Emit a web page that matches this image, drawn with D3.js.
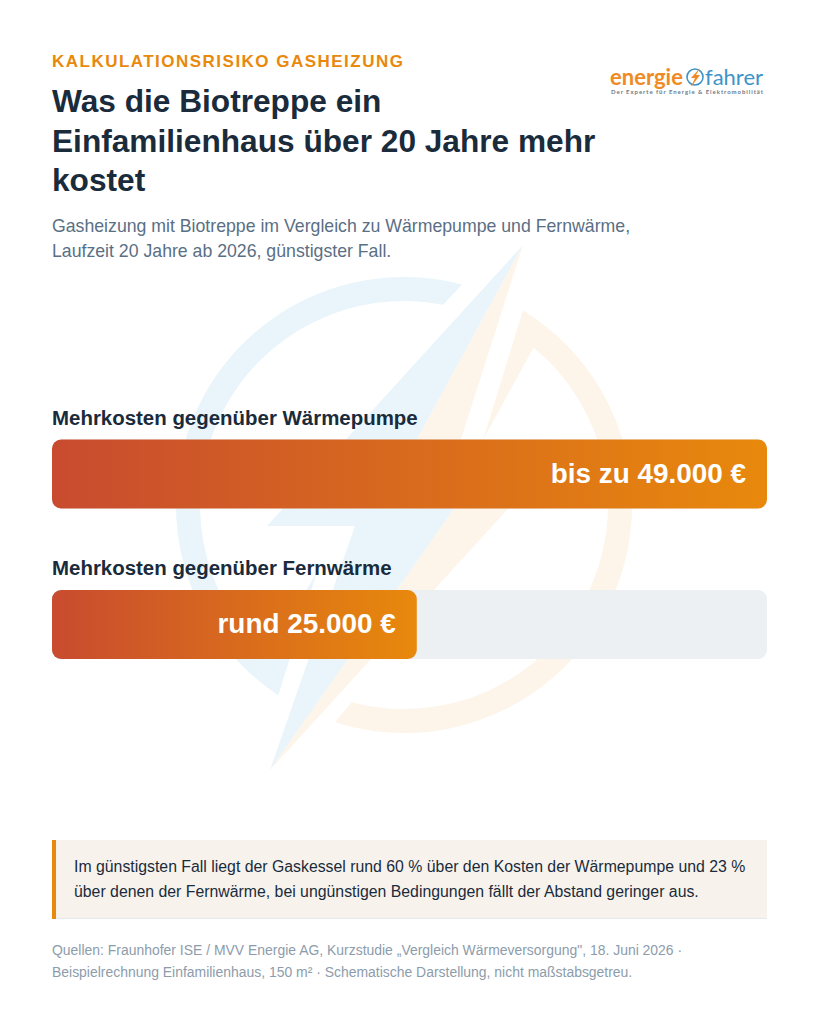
<!DOCTYPE html>
<html lang="de">
<head>
<meta charset="utf-8">
<title>Kalkulationsrisiko Gasheizung</title>
<script src="https://cdn.jsdelivr.net/npm/d3@7"></script>
<style>
  html, body { margin: 0; padding: 0; background: #fff; }
  svg { display: block; }
  text { font-family: "Liberation Sans", Arial, sans-serif; }
</style>
</head>
<body>
<div id="chart"></div>
<script>
// chart data
const categories = ['Mehrkosten gegenüber Wärmepumpe', 'Mehrkosten gegenüber Fernwärme'];
const extraCosts = [49000, 25000];
const valueLabels = ['bis zu 49.000 €', 'rund 25.000 €'];
const titleLines = ['Was die Biotreppe ein', 'Einfamilienhaus über 20 Jahre mehr', 'kostet'];
const subtitleLines = [
  'Gasheizung mit Biotreppe im Vergleich zu Wärmepumpe und Fernwärme,',
  'Laufzeit 20 Jahre ab 2026, günstigster Fall.'
];
const noteLines = [
  'Im günstigsten Fall liegt der Gaskessel rund 60 % über den Kosten der Wärmepumpe und 23 %',
  'über denen der Fernwärme, bei ungünstigen Bedingungen fällt der Abstand geringer aus.'
];
const sourceLines = [
  'Quellen: Fraunhofer ISE / MVV Energie AG, Kurzstudie „Vergleich Wärmeversorgung", 18. Juni 2026 ·',
  'Beispielrechnung Einfamilienhaus, 150 m² · Schematische Darstellung, nicht maßstabsgetreu.'
];

const width = 819, height = 1024;
const left = 52, right = 767;
const ink = '#1a2b3c', orange = '#e8890c', red = '#c84b2f';

const svg = d3.select('#chart').append('svg').attr('width', width).attr('height', height);
const defs = svg.append('defs');

// ring piece of the watermark, ends are taken from points on the picture
function ringPiece(outerA, outerB, innerB, innerA, ccw, spike) {
  const cx = 404, cy = 505;
  const ang = p => Math.atan2(p[1] - cy, p[0] - cx);
  const p = d3.path();
  p.arc(cx, cy, 228, ang(outerA), ang(outerB), ccw);
  if (spike && ccw) p.lineTo(spike[0], spike[1]);
  p.arc(cx, cy, 204, ang(innerB), ang(innerA), !ccw);
  if (spike && !ccw) p.lineTo(spike[0], spike[1]);
  p.closePath();
  return p.toString();
}

// watermark behind the bars
const wm = svg.append('g');
const blueWm = '#e9f5fa', orangeWm = '#fdf4ea';
wm.append('path').attr('fill', blueWm)
  .attr('d', ringPiece([462, 285], [277, 697], [265, 659], [443, 305], true, [317, 572]));
wm.append('path').attr('fill', orangeWm)
  .attr('d', ringPiece([522, 312], [334, 726], [350, 708], [533, 348], false, [483, 440]));
wm.append('path').attr('fill', blueWm)
  .attr('d', 'M523,245 L267,526 L355,526 L270,770 L468,489 L390,489 Z');
wm.append('path').attr('fill', orangeWm)
  .attr('d', 'M523,245 L445,489 L526,489 L270,770 L468,489 L390,489 Z');

// header
svg.append('text').attr('x', left).attr('y', 66.5)
  .attr('fill', orange).attr('font-size', 17).attr('font-weight', 700).attr('letter-spacing', 1.48)
  .text('KALKULATIONSRISIKO GASHEIZUNG');

svg.append('g').selectAll('text').data(titleLines).join('text')
  .attr('x', left).attr('y', (d, i) => 112 + i * 39.5)
  .attr('fill', ink).attr('font-size', 31.65).attr('font-weight', 700)
  .text(d => d);

svg.append('g').selectAll('text').data(subtitleLines).join('text')
  .attr('x', left).attr('y', (d, i) => 232 + i * 25)
  .attr('fill', '#5a6f84').attr('font-size', 17.7)
  .text(d => d);

// logo
const logo = svg.append('g');
logo.append('text').attr('x', 610).attr('y', 85)
  .attr('fill', '#f08a24').attr('font-size', 22).attr('font-weight', 700)
  .style('font-family', 'Lato').text('energie');
logo.append('circle').attr('cx', 695).attr('cy', 77).attr('r', 8)
  .attr('fill', 'none').attr('stroke', '#3d94c8').attr('stroke-width', 1.6);
logo.append('path').attr('fill', '#f08a24').attr('d', 'M700,68 L691,78 L695,78 L691,87 L700,75 L696,75 Z');
logo.append('text').attr('x', 705).attr('y', 85)
  .attr('fill', '#3d94c8').attr('font-size', 22)
  .style('font-family', 'Lato').text('fahrer');
logo.append('text').attr('x', 611).attr('y', 93.5)
  .attr('fill', '#6f7b86').attr('font-size', 6).attr('font-weight', 700).attr('letter-spacing', 0.95)
  .style('font-family', 'Lato').text('Der Experte für Energie & Elektromobilität');

// bars
const x = d3.scaleLinear().domain([0, d3.max(extraCosts)]).range([left, right]);
const y = d3.scaleBand().domain(categories).range([439.5, 659]).paddingInner(0.5415);

const rows = svg.append('g').selectAll('g').data(categories).join('g');

categories.forEach((c, i) => {
  defs.append('linearGradient').attr('id', 'barFill' + i)
    .selectAll('stop').data([red, orange]).join('stop')
    .attr('offset', (d, j) => j)
    .attr('stop-color', d => d);
});

rows.append('text')
  .attr('x', left).attr('y', d => y(d) - 14.5)
  .attr('fill', ink).attr('font-size', 20.45).attr('font-weight', 700)
  .text(d => d);

rows.append('rect')
  .attr('x', x(0)).attr('y', d => y(d))
  .attr('width', x.range()[1] - x(0)).attr('height', y.bandwidth())
  .attr('rx', 9).attr('fill', '#ecf0f3');

rows.append('rect')
  .attr('x', x(0)).attr('y', d => y(d))
  .attr('width', (d, i) => x(extraCosts[i]) - x(0)).attr('height', y.bandwidth())
  .attr('rx', 9).attr('fill', (d, i) => `url(#barFill${i})`);

rows.append('text')
  .attr('x', (d, i) => x(extraCosts[i]) - 21).attr('y', d => y(d) + y.bandwidth() / 2 + 8.5)
  .attr('text-anchor', 'end').attr('fill', '#fff').attr('font-size', 27.9).attr('font-weight', 700)
  .text((d, i) => valueLabels[i]);

// note box
svg.append('rect').attr('x', left).attr('y', 840).attr('width', right - left).attr('height', 78).attr('fill', '#f7f3ec');
svg.append('rect').attr('x', left).attr('y', 918).attr('width', right - left).attr('height', 1).attr('fill', '#e6eaee');
svg.append('rect').attr('x', left).attr('y', 840).attr('width', 4).attr('height', 79).attr('fill', orange);

svg.append('g').selectAll('text').data(noteLines).join('text')
  .attr('x', 74).attr('y', (d, i) => 872 + i * 24.5)
  .attr('fill', ink).attr('font-size', 15.83)
  .text(d => d);

svg.append('g').selectAll('text').data(sourceLines).join('text')
  .attr('x', left).attr('y', (d, i) => 955 + i * 22)
  .attr('fill', '#8d9cab').attr('font-size', 13.95)
  .text(d => d);
</script>
</body>
</html>
